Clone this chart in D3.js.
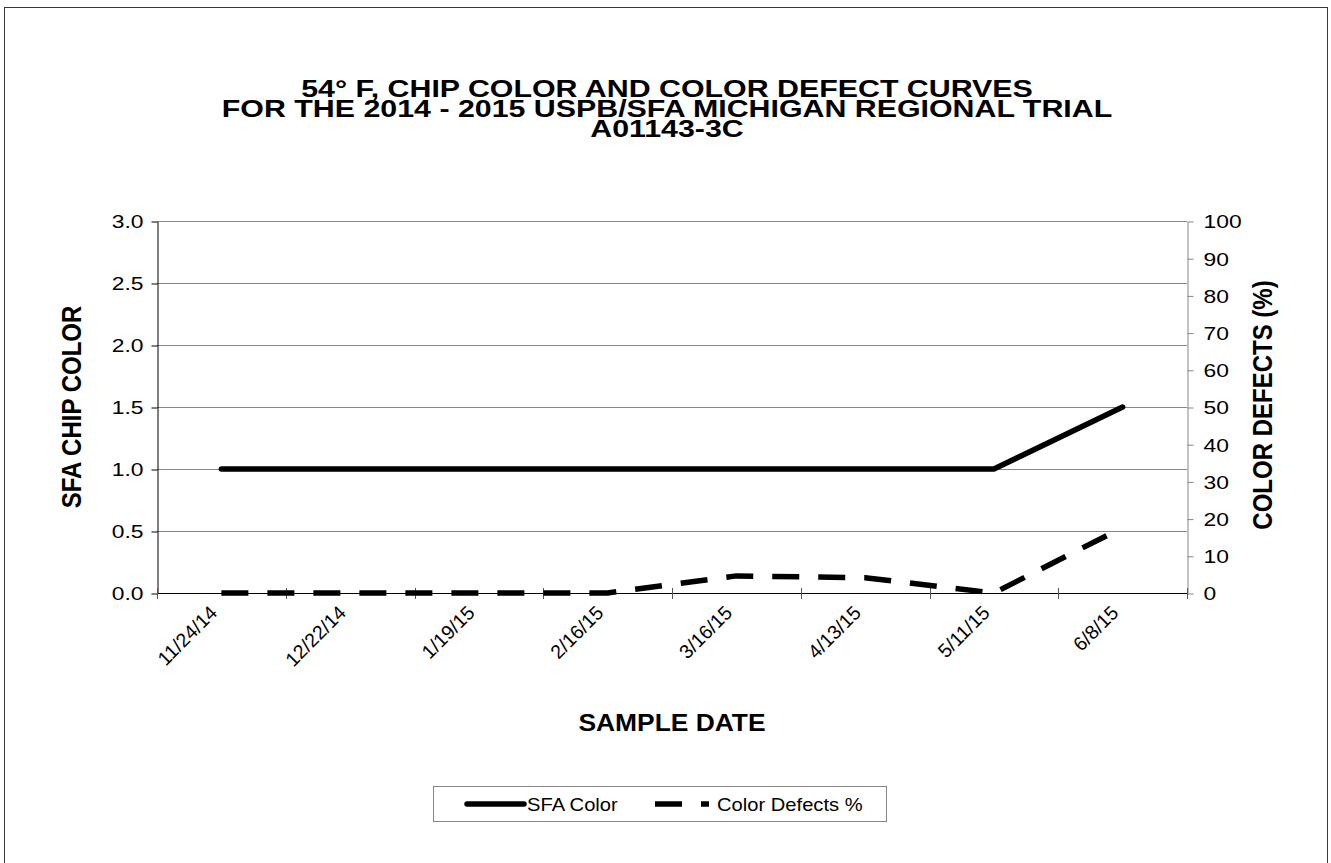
<!DOCTYPE html>
<html>
<head>
<meta charset="utf-8">
<title>54 F chip color and color defect curves</title>
<script src="https://d3js.org/d3.v7.min.js"></script>
<style>
  body { margin: 0; background: #fff; }
  text { font-family: "Liberation Sans", Arial, sans-serif; fill: #000; }
</style>
</head>
<body>
<div id="chart"></div>
<script>
// values
var sampleDates = ["11/24/14", "12/22/14", "1/19/15", "2/16/15", "3/16/15", "4/13/15", "5/11/15", "6/8/15"];
var sfaColor = [1.0, 1.0, 1.0, 1.0, 1.0, 1.0, 1.0, 1.5];
var colorDefects = [0, 0, 0, 0, 4.6, 4.1, 0, 17.6];
var leftTicks = [0, 0.5, 1.0, 1.5, 2.0, 2.5, 3.0];
var rightTicks = [0, 10, 20, 30, 40, 50, 60, 70, 80, 90, 100];
var titleLines = ["54\u00B0 F, CHIP COLOR AND COLOR DEFECT CURVES",
                  "FOR THE 2014 - 2015 USPB/SFA MICHIGAN REGIONAL TRIAL",
                  "A01143-3C"];

var W = 1331, H = 863;
var plot = {left: 157, right: 1187, top: 221, bottom: 593};

var svg = d3.select("#chart").append("svg")
    .attr("width", W).attr("height", H);

// outer frame
svg.append("rect")
    .attr("x", 4.5).attr("y", 7.5)
    .attr("width", 1323).attr("height", 870)
    .attr("fill", "none").attr("stroke", "#3a3a3a").attr("stroke-width", 1);

var x = d3.scaleBand().domain(sampleDates).range([plot.left, plot.right]);
var yL = d3.scaleLinear().domain([0, 3]).range([plot.bottom, plot.top]);
var yR = d3.scaleLinear().domain([0, 100]).range([plot.bottom, plot.top]);
function cx(d) { return x(d) + x.bandwidth() / 2; }

// stretched text helper (the original text is wider than it is tall)
function place(sel, px, py, sx, rot) {
  sel.attr("transform", "translate(" + px + "," + py + ") scale(" + sx + ",1)" + (rot ? " rotate(" + rot + ")" : ""));
}

// gridlines
svg.append("g").selectAll("line")
  .data(leftTicks.slice(1))
  .enter().append("line")
    .attr("x1", plot.left).attr("x2", plot.right)
    .attr("y1", function(d) { return Math.round(yL(d)) + 0.5; })
    .attr("y2", function(d) { return Math.round(yL(d)) + 0.5; })
    .attr("stroke", "#868686").attr("stroke-width", 1);

// left axis
var tsx = 1.27;
var gL = svg.append("g").attr("transform", "translate(" + (plot.left + 0.5) + ",0.5)")
    .call(d3.axisLeft(yL).tickValues(leftTicks).tickFormat(d3.format(".1f")).tickSize(6).tickSizeOuter(0));
gL.select(".domain").attr("stroke", "#000");
gL.selectAll(".tick line").attr("stroke", "#000");
gL.selectAll(".tick text")
    .attr("x", -14 / tsx).attr("dy", "0.36em")
    .attr("transform", "scale(" + tsx + ",1)")
    .style("font-size", "18px").style("font-family", "Liberation Sans, Arial, sans-serif");

// right axis
var gR = svg.append("g").attr("transform", "translate(" + (plot.right + 0.5) + ",0.5)")
    .call(d3.axisRight(yR).tickValues(rightTicks).tickSize(6).tickSizeOuter(0));
gR.select(".domain").attr("stroke", "#868686");
gR.selectAll(".tick line").attr("stroke", "#868686");
gR.selectAll(".tick text")
    .attr("x", 16 / tsx).attr("dy", "0.36em")
    .attr("transform", "scale(" + tsx + ",1)")
    .style("font-size", "18px").style("font-family", "Liberation Sans, Arial, sans-serif");

// bottom axis: ticks on category boundaries
var bounds = d3.range(sampleDates.length + 1).map(function(i) { return plot.left + i * x.step(); });
svg.append("line")
    .attr("x1", plot.left).attr("x2", plot.right)
    .attr("y1", plot.bottom + 0.5).attr("y2", plot.bottom + 0.5)
    .attr("stroke", "#000");
svg.append("g").selectAll("line")
  .data(bounds)
  .enter().append("line")
    .attr("x1", function(d) { return Math.round(d) + 0.5; })
    .attr("x2", function(d) { return Math.round(d) + 0.5; })
    .attr("y1", plot.bottom - 5).attr("y2", plot.bottom + 6)
    .attr("stroke", "#555");

// category labels
svg.append("g").selectAll("text")
  .data(sampleDates)
  .enter().append("text")
    .attr("text-anchor", "end")
    .style("font-size", "19.5px")
    .attr("transform", function(d) { return "translate(" + (cx(d) - 3) + ",614) rotate(-45)"; })
    .text(function(d) { return d; });

// series
var lineL = d3.line()
    .x(function(d, i) { return cx(sampleDates[i]); })
    .y(function(d) { return yL(d); });
var lineR = d3.line()
    .x(function(d, i) { return cx(sampleDates[i]); })
    .y(function(d) { return yR(d); });

svg.append("path")
    .datum(colorDefects)
    .attr("d", lineR)
    .attr("fill", "none").attr("stroke", "#000")
    .attr("stroke-width", 5.5)
    .attr("stroke-dasharray", "27,19");

svg.append("path")
    .datum(sfaColor)
    .attr("d", lineL)
    .attr("fill", "none").attr("stroke", "#000")
    .attr("stroke-width", 5.5)
    .attr("stroke-linecap", "round").attr("stroke-linejoin", "round");

// title, one text block with three lines
var title = svg.append("text")
    .attr("text-anchor", "middle")
    .style("font-size", "23px").style("font-weight", "bold")
    .call(place, 667, 97, 1.32);
title.selectAll("tspan")
  .data(titleLines)
  .enter().append("tspan")
    .attr("x", 0)
    .attr("y", function(d, i) { return i * 19.8; })
    .text(function(d) { return d; });

svg.append("text")
    .attr("text-anchor", "middle")
    .style("font-size", "24px").style("font-weight", "bold")
    .call(place, 672, 731, 1.1)
    .text("SAMPLE DATE");

svg.append("text")
    .attr("text-anchor", "middle")
    .style("font-size", "24px").style("font-weight", "bold")
    .call(place, 81, 407, 1.15, -90)
    .text("SFA CHIP COLOR");

svg.append("text")
    .attr("text-anchor", "middle")
    .style("font-size", "24px").style("font-weight", "bold")
    .call(place, 1272, 405, 1.15, -90)
    .text("COLOR DEFECTS (%)");

// legend
var leg = svg.append("g");
leg.append("rect")
    .attr("x", 433.5).attr("y", 786.5).attr("width", 453).attr("height", 35)
    .attr("fill", "#fff").attr("stroke", "#868686");
leg.append("line")
    .attr("x1", 467).attr("x2", 524).attr("y1", 804).attr("y2", 804)
    .attr("stroke", "#000").attr("stroke-width", 5.5).attr("stroke-linecap", "round");
leg.append("text")
    .style("font-size", "18px")
    .call(place, 527, 810.5, 1.12)
    .text("SFA Color");
leg.append("line")
    .attr("x1", 655).attr("x2", 709).attr("y1", 804).attr("y2", 804)
    .attr("stroke", "#000").attr("stroke-width", 5.5).attr("stroke-dasharray", "27,19");
leg.append("text")
    .style("font-size", "18px")
    .call(place, 717, 810.5, 1.12)
    .text("Color Defects %");
</script>
</body>
</html>
